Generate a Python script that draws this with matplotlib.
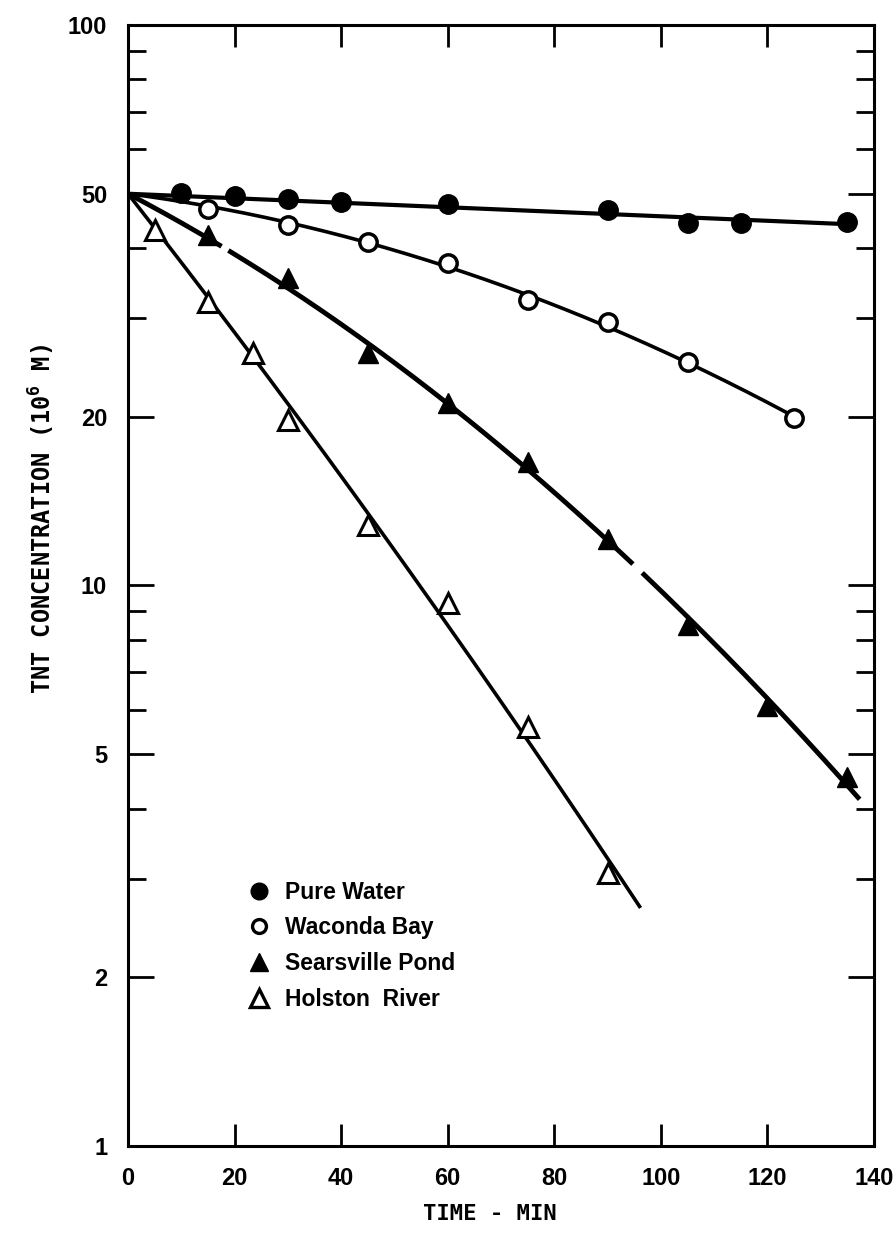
import numpy as np
import matplotlib.pyplot as plt
from matplotlib.lines import Line2D
from matplotlib import font_manager

# TNT photolysis in different waters, concentration in 10^6 M vs time (min)
pure_t = [10, 20, 30, 40, 60, 90, 105, 115, 135]
pure_c = [50.2, 49.6, 48.9, 48.4, 47.9, 46.8, 44.3, 44.3, 44.5]

waconda_t = [15, 30, 45, 60, 75, 90, 105, 125]
waconda_c = [47.0, 43.9, 41.0, 37.6, 32.3, 29.5, 25.0, 19.9]

sears_t = [15, 30, 45, 60, 75, 90, 105, 120, 135]
sears_c = [42.2, 35.3, 26.0, 21.2, 16.6, 12.1, 8.5, 6.1, 4.55]

holston_t = [5, 15, 23.5, 30, 45, 60, 75, 90]
holston_c = [43.0, 32.0, 26.0, 19.7, 12.8, 9.3, 5.6, 3.07]

c0 = 50.0
line_end = {'pure': 135, 'waconda': 125, 'sears': 137, 'holston': 96}

names = {f.name for f in font_manager.fontManager.ttflist}
sans = 'Liberation Sans Narrow' if 'Liberation Sans Narrow' in names else 'Liberation Sans'


def fit_curve(t, c, deg, t_end):
    # least squares fit of log(c/c0) through the common start point
    t = np.asarray(t, float)
    y = np.log10(np.asarray(c) / c0)
    A = np.column_stack([t**k for k in range(1, deg + 1)])
    coef = np.linalg.lstsq(A, y, rcond=None)[0]
    tt = np.linspace(0, t_end, 400)
    yy = sum(coef[k - 1] * tt**k for k in range(1, deg + 1))
    return tt, c0 * 10**yy


fig = plt.figure(figsize=(8.93, 12.37), dpi=100)
ax = fig.add_axes([128/893, 91/1237, 746/893, 1121/1237])

tt, cc = fit_curve(pure_t, pure_c, 1, line_end['pure'])
ax.plot(tt, cc, color='black', lw=3.0)
tt, cc = fit_curve(waconda_t, waconda_c, 2, line_end['waconda'])
ax.plot(tt, cc, color='black', lw=2.6)
tt, cc = fit_curve(sears_t, sears_c, 2, line_end['sears'])
gap = ((tt > 94.5) & (tt < 96.8)) | ((tt > 17.5) & (tt < 19.0))
ax.plot(tt, np.where(gap, np.nan, cc), color='black', lw=3.5)
tt, cc = fit_curve(holston_t, holston_c, 2, line_end['holston'])
ax.plot(tt, cc, color='black', lw=2.6)

ax.plot(pure_t, pure_c, 'o', color='black', ms=14, zorder=5)
ax.plot(waconda_t, waconda_c, 'o', mfc='white', mec='black', mew=2.5, ms=12.5, zorder=5)
ax.plot(sears_t, sears_c, '^', color='black', ms=15, zorder=5)
ax.plot(holston_t, holston_c, '^', mfc='white', mec='black', mew=2.2, ms=15, zorder=5)

ax.set_yscale('log')
ax.set_xlim(0, 140)
ax.set_ylim(1, 100)

ax.set_xticks(range(0, 141, 20))
ax.set_xticklabels([str(v) for v in range(0, 141, 20)])
ax.set_yticks([1, 2, 5, 10, 20, 50, 100])
ax.set_yticklabels(['1', '2', '5', '10', '20', '50', '100'])
ax.set_yticks([3, 4, 6, 7, 8, 9, 30, 40, 60, 70, 80, 90], minor=True)
ax.yaxis.set_minor_formatter(plt.NullFormatter())

for s in ax.spines.values():
    s.set_linewidth(2.2)
ax.tick_params(axis='both', which='both', direction='in', top=True, right=True,
               width=2.0, labelsize=17)
ax.tick_params(axis='x', which='major', length=16, pad=15)
ax.tick_params(axis='y', which='major', length=19, pad=15)
ax.tick_params(axis='y', which='minor', length=13)
for lab in ax.get_xticklabels() + ax.get_yticklabels():
    lab.set_fontweight('bold')
    lab.set_fontfamily(sans)

plt.rcParams['mathtext.default'] = 'regular'
fig.text(0.047, 0.58, 'TNT CONCENTRATION (10$^6$ M)', rotation=90, ha='center', va='center',
         fontsize=17, family='DejaVu Sans Mono', weight='bold')
ax.set_xlabel('TIME - MIN', fontsize=16, family='DejaVu Sans Mono', weight='bold')
ax.xaxis.set_label_coords(0.485, -0.052)

handles = [
    Line2D([], [], ls='none', marker='o', color='black', ms=12),
    Line2D([], [], ls='none', marker='o', mfc='white', mec='black', mew=2.4, ms=10),
    Line2D([], [], ls='none', marker='^', color='black', ms=13),
    Line2D([], [], ls='none', marker='^', mfc='white', mec='black', mew=2.4, ms=13),
]
labels = ['Pure Water', 'Waconda Bay', 'Searsville Pond', 'Holston  River']
leg = ax.legend(handles, labels, loc='upper left', bbox_to_anchor=(0.13, 0.255),
                frameon=False, handletextpad=0.5, labelspacing=0.55, handlelength=1.2,
                prop={'family': sans, 'weight': 'bold', 'size': 16.5})

fig.savefig('out.png', dpi=100)
